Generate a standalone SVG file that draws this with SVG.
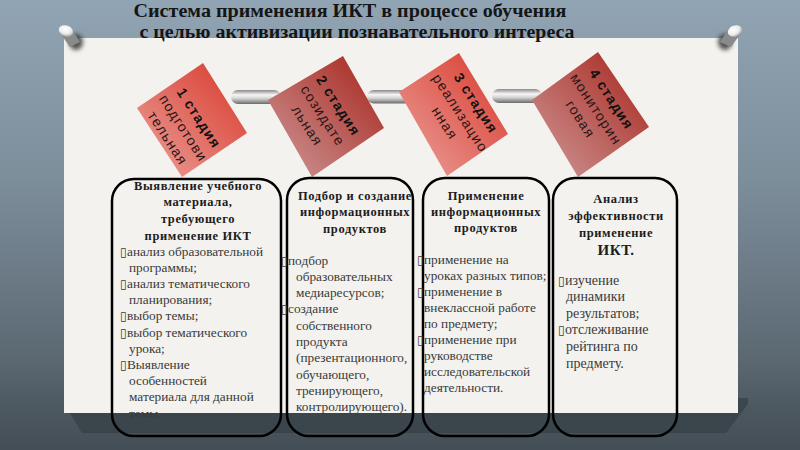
<svg xmlns="http://www.w3.org/2000/svg" width="800" height="450" viewBox="0 0 800 450">
<defs>
<linearGradient id="bg" x1="0" y1="0" x2="0" y2="1">
<stop offset="0" stop-color="#91a4b3"/>
<stop offset="0.4" stop-color="#7d8e9b"/>
<stop offset="0.8" stop-color="#5b6872"/>
<stop offset="0.92" stop-color="#4b565e"/>
<stop offset="1" stop-color="#434e56"/>
</linearGradient>
<linearGradient id="gLight" x1="0" y1="1" x2="1" y2="0">
<stop offset="0" stop-color="#eba29c"/>
<stop offset="1" stop-color="#d8372a"/>
</linearGradient>
<linearGradient id="gDark" x1="0" y1="1" x2="1" y2="0">
<stop offset="0" stop-color="#cf9a9a"/>
<stop offset="1" stop-color="#a6231a"/>
</linearGradient>
<linearGradient id="bar" x1="0" y1="0" x2="0" y2="1">
<stop offset="0" stop-color="#8a8a8a"/>
<stop offset="0.35" stop-color="#f6f6f6"/>
<stop offset="0.6" stop-color="#d4d4d4"/>
<stop offset="1" stop-color="#6a6a6a"/>
</linearGradient>
<radialGradient id="pinHead" cx="0.4" cy="0.35" r="0.7">
<stop offset="0" stop-color="#ffffff"/>
<stop offset="0.6" stop-color="#ececec"/>
<stop offset="1" stop-color="#9a9a9a"/>
</radialGradient>
<filter id="blur" x="-50%" y="-50%" width="200%" height="200%"><feGaussianBlur stdDeviation="2"/></filter>
</defs>
<style>
.title{font-family:"Liberation Serif",serif;font-weight:bold;font-size:18px;fill:#151515;text-anchor:middle}
.box{fill:none;stroke:#000;stroke-width:2.5}
.hd{font-family:"Liberation Serif",serif;font-weight:bold;font-size:12.5px;letter-spacing:0.6px;fill:#1c1c1c;text-anchor:middle}
.li{font-family:"Liberation Serif",serif;font-size:13.3px;fill:#3a3a3a}
.li4{font-family:"Liberation Serif",serif;font-size:14px;fill:#3a3a3a}
.tofu{font-family:"DejaVu Sans",sans-serif;font-size:12px;fill:#3a3a3a}
.st{font-family:"Liberation Sans",sans-serif;font-weight:bold;font-size:14px;letter-spacing:1.1px;fill:#111;text-anchor:middle}
.sub{font-family:"Liberation Sans",sans-serif;font-size:14px;letter-spacing:1.3px;fill:#2a1616;text-anchor:middle}
.conn{fill:url(#bar)}
</style>

<rect x="0" y="0" width="800" height="450" fill="url(#bg)"/>
<polygon points="70,413 738,413 738,398 748,398 748,404 726,433 82,433" fill="#354047" opacity="0.75"/>
<rect x="64" y="38" width="674" height="375" fill="#f3f2ee"/>

<g id="pins">
<ellipse cx="76" cy="42" rx="7" ry="8" fill="#2e2e2e" filter="url(#blur)" opacity="0.8"/>
<polygon points="60,33 71,28 80,42 70,47" fill="#8a8a8a"/>
<ellipse cx="66" cy="31" rx="7.5" ry="5.5" transform="rotate(20 66 31)" fill="url(#pinHead)"/>
<ellipse cx="725" cy="42" rx="7" ry="8" fill="#2e2e2e" filter="url(#blur)" opacity="0.8"/>
<polygon points="729,28 741,33 731,47 720,42" fill="#8a8a8a"/>
<ellipse cx="735" cy="31" rx="7.5" ry="5.5" transform="rotate(-20 735 31)" fill="url(#pinHead)"/>
</g>

<text class="title" x="350" y="17" textLength="433" lengthAdjust="spacingAndGlyphs">Система применения ИКТ  в процессе обучения</text>
<text class="title" x="357" y="37.5" textLength="435" lengthAdjust="spacingAndGlyphs">с целью активизации познавательного интереса</text>

<g id="connectors">
<rect class="conn" x="231" y="90" width="50" height="14" rx="7"/>
<rect class="conn" x="367" y="90" width="45" height="13.5" rx="7"/>
<rect class="conn" x="492" y="89" width="50" height="14" rx="7"/>
</g>

<g id="stage1">
<polygon points="203,63 247,133 182,177 137,108" fill="url(#gLight)"/>
<text transform="translate(199 118) rotate(57)"><tspan class="st" x="0" y="5">1 стадия</tspan><tspan class="sub" x="0" y="23.5">подготови</tspan><tspan class="sub" x="0" y="42">тельная</tspan></text>
</g>
<g id="stage2">
<polygon points="343,56 384,128 312,177 268,100" fill="url(#gDark)"/>
<text transform="translate(338.5 105.5) rotate(57)"><tspan class="st" x="0" y="5">2 стадия</tspan><tspan class="sub" x="0" y="23.5">созидате</tspan><tspan class="sub" x="0" y="42">льная</tspan></text>
</g>
<g id="stage3">
<polygon points="459,53 508,134 447,176 399,92" fill="url(#gLight)"/>
<text transform="translate(476 103) rotate(57)"><tspan class="st" x="0" y="5">3 стадия</tspan><tspan class="sub" x="0" y="23.5">реализацио</tspan><tspan class="sub" x="0" y="42">нная</tspan></text>
</g>
<g id="stage4">
<polygon points="598,52 649,127 578,177 532,100" fill="url(#gDark)"/>
<text transform="translate(611.7 99) rotate(57)"><tspan class="st" x="0" y="5">4 стадия</tspan><tspan class="sub" x="0" y="23.5">мониторин</tspan><tspan class="sub" x="0" y="42">говая</tspan></text>
</g>

<g id="box1">
<rect class="box" x="112" y="179" width="169" height="257" rx="22"/>
<text class="hd" x="198" y="189.5">Выявление учебного</text>
<text class="hd" x="198" y="206.2">материала,</text>
<text class="hd" x="198" y="222.9">требующего</text>
<text class="hd" x="198" y="239.6">применение ИКТ</text>
<text class="li" x="120" y="255.5"><tspan class="tofu">▯</tspan><tspan x="127">анализ образовательной</tspan></text>
<text class="li" x="129" y="271.7">программы;</text>
<text class="li" x="120" y="287.9"><tspan class="tofu">▯</tspan><tspan x="127">анализ тематического</tspan></text>
<text class="li" x="129" y="304.1">планирования;</text>
<text class="li" x="120" y="320.3"><tspan class="tofu">▯</tspan><tspan x="127">выбор темы;</tspan></text>
<text class="li" x="120" y="336.5"><tspan class="tofu">▯</tspan><tspan x="127">выбор тематического</tspan></text>
<text class="li" x="129" y="352.7">урока;</text>
<text class="li" x="120" y="368.9"><tspan class="tofu">▯</tspan><tspan x="127">Выявление</tspan></text>
<text class="li" x="129" y="385.1">особенностей</text>
<text class="li" x="129" y="401.3">материала для данной</text>
<text class="li" x="129" y="417.5">темы.</text>
</g>

<g id="box2">
<rect class="box" x="287" y="178" width="126" height="258" rx="22"/>
<text class="hd" x="355" y="199.5">Подбор и создание</text>
<text class="hd" x="355" y="216">информационных</text>
<text class="hd" x="355" y="232.5">продуктов</text>
<text class="li" x="281" y="264.5"><tspan class="tofu">▯</tspan><tspan x="288">подбор</tspan></text>
<text class="li" x="296" y="280.8">образовательных</text>
<text class="li" x="296" y="297.1">медиаресурсов;</text>
<text class="li" x="281" y="313.4"><tspan class="tofu">▯</tspan><tspan x="288">создание</tspan></text>
<text class="li" x="296" y="329.7">собственного</text>
<text class="li" x="296" y="346">продукта</text>
<text class="li" x="296" y="362.3">(презентационного,</text>
<text class="li" x="296" y="378.6">обучающего,</text>
<text class="li" x="296" y="394.9">тренирующего,</text>
<text class="li" x="296" y="411.2">контролирующего).</text>
</g>

<g id="box3">
<rect class="box" x="423" y="178" width="126" height="258" rx="22"/>
<text class="hd" x="486" y="199.5">Применение</text>
<text class="hd" x="486" y="215.5">информационных</text>
<text class="hd" x="486" y="231.5">продуктов</text>
<text class="li" x="417" y="263.5"><tspan class="tofu">▯</tspan><tspan x="424">применение на</tspan></text>
<text class="li" x="424" y="279.6">уроках разных типов;</text>
<text class="li" x="417" y="295.7"><tspan class="tofu">▯</tspan><tspan x="424">применение в</tspan></text>
<text class="li" x="424" y="311.8">внеклассной работе</text>
<text class="li" x="424" y="327.9">по предмету;</text>
<text class="li" x="417" y="344"><tspan class="tofu">▯</tspan><tspan x="424">применение при</tspan></text>
<text class="li" x="424" y="360.1">руководстве</text>
<text class="li" x="424" y="376.2">исследовательской</text>
<text class="li" x="424" y="392.3">деятельности.</text>
</g>

<g id="box4">
<rect class="box" x="553" y="178" width="124" height="258" rx="22"/>
<text class="hd" x="616" y="202.5">Анализ</text>
<text class="hd" x="616" y="219.5">эффективности</text>
<text class="hd" x="616" y="236.5">применение</text>
<text class="hd" x="616" y="255" style="font-size:15px">ИКТ.</text>
<text class="li4" x="558" y="284.5"><tspan class="tofu">▯</tspan><tspan x="565">изучение</tspan></text>
<text class="li4" x="566" y="301.1">динамики</text>
<text class="li4" x="566" y="317.7">результатов;</text>
<text class="li4" x="558" y="334.3"><tspan class="tofu">▯</tspan><tspan x="565">отслеживание</tspan></text>
<text class="li4" x="566" y="350.9">рейтинга по</text>
<text class="li4" x="566" y="367.5">предмету.</text>
</g>
</svg>
